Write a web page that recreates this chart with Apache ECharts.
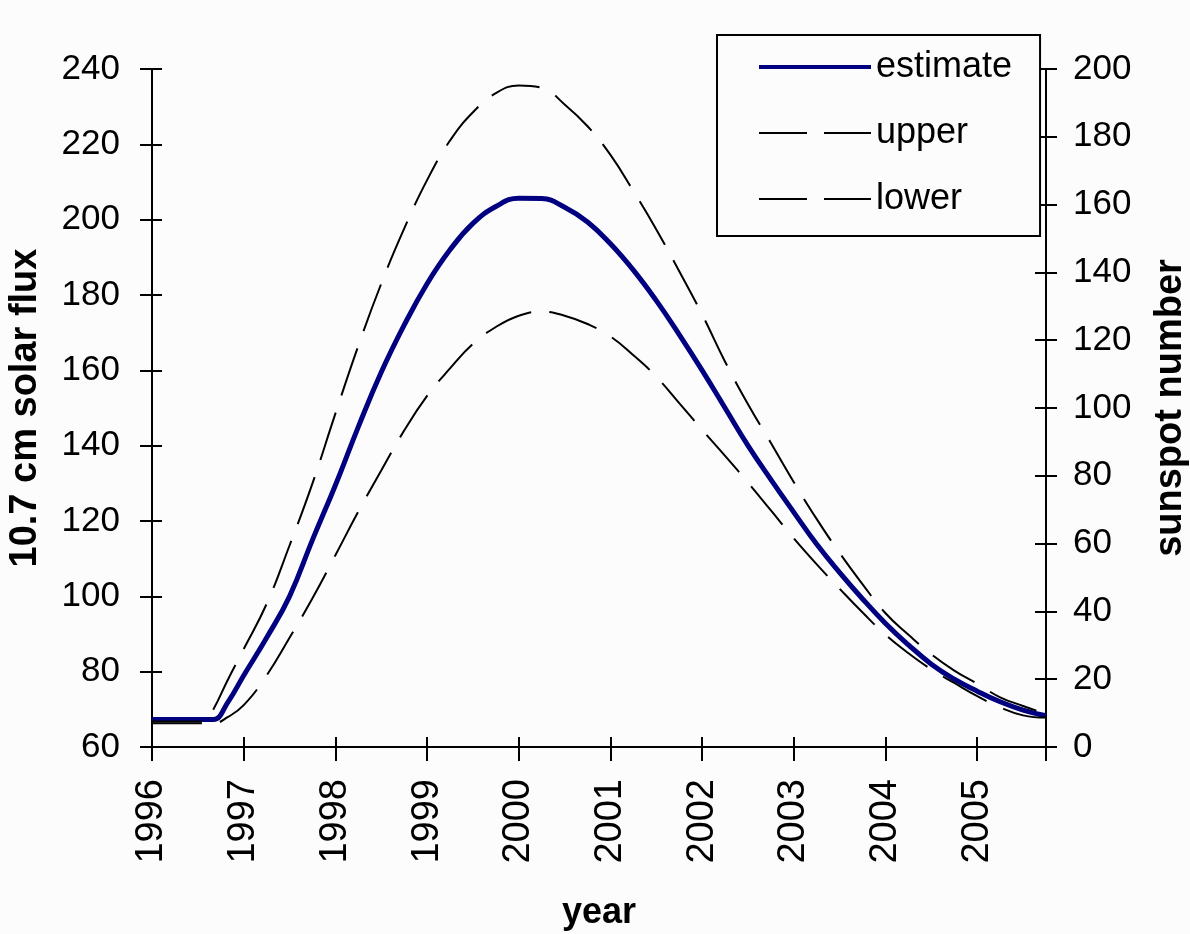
<!DOCTYPE html>
<html>
<head>
<meta charset="utf-8">
<script src="https://cdn.jsdelivr.net/npm/echarts@6/dist/echarts.min.js"></script>
<style>
html,body{margin:0;padding:0;background:#fcfcfc;overflow:hidden;width:1190px;height:934px;}
#chart{width:1190px;height:934px;display:block;}
</style>
</head>
<body>
<div id="chart"></div>
<script>
// x positions (decimal years)
const years = [1996, 1996.25, 1996.5, 1996.58, 1996.67, 1996.83,
  1997, 1997.25, 1997.5, 1997.75, 1998, 1998.25, 1998.5, 1998.75,
  1999, 1999.25, 1999.5, 1999.75, 2000, 2000.25, 2000.5, 2000.75,
  2001, 2001.25, 2001.5, 2001.75, 2002, 2002.25, 2002.5, 2002.75,
  2003, 2003.25, 2003.5, 2003.75, 2004, 2004.25, 2004.5, 2004.75,
  2005, 2005.25, 2005.5, 2005.75];
const estimate = [67.3, 67.3, 67.3, 67.3, 67.3, 72,
  79, 89, 100, 115, 129.5, 145, 159.5, 172,
  183, 192, 199, 203.5, 205.7, 205.6, 203.3, 199.4,
  193.6, 186.6, 178.5, 169.5, 160, 150, 140, 131,
  122.3, 113.8, 106.3, 99.3, 92.8, 87.1, 82, 78,
  74.8, 72.0, 69.8, 68.3];
const upper = [66.8, 66.8, 66.8, 66.8, 70, 78,
  86, 98, 113.5, 130, 148.5, 166.5, 183, 197.6,
  210.5, 221, 228.5, 233.6, 235.6, 235, 230.6, 224.8,
  217.2, 207.6, 197.4, 186.3, 174.8, 162.3, 151, 140.7,
  130.3, 120.5, 111.5, 103.2, 95.5, 89.8, 84.6, 80.3,
  76.8, 73.2, 70.9, 68.8];
const lower = [66.3, 66.3, 66.3, 66.3, 66.3, 68,
  71.1, 79, 89, 99.5, 110.9, 122.5, 133.4, 144,
  153.2, 160.5, 167, 171.5, 174.5, 175.6, 174.5, 172.3,
  169, 164, 158.3, 151.3, 144.2, 137.3, 130.2, 122.8,
  115.4, 108.5, 102, 95.7, 89.8, 84.9, 80.6, 77,
  73.5, 70.5, 68.4, 67.8];
const seriesNames = ['estimate', 'upper', 'lower'];
const xTitle = 'year';
const yLeftTitle = '10.7 cm solar flux';
const yRightTitle = 'sunspot number';

const pairs = arr => years.map((y, i) => [y, arr[i]]);
const font = "'Liberation Sans', Arial, sans-serif";

const solidIcon = 'path://M0,0h112v4h-112z';
const dashIcon = 'path://M0,0M112,4M0,1h48v2h-48zM65,1h47v2h-47z';

const chart = echarts.init(document.getElementById('chart'), null, {renderer: 'canvas', width: 1190, height: 934});
const axisLine = {show: true, lineStyle: {color: '#000', width: 2}};
const option = {
  backgroundColor: '#fcfcfc',
  animation: false,
  grid: {left: 152, right: 144, top: 69, bottom: 187, containLabel: false, outerBoundsMode: 'none'},
  legend: {
    orient: 'vertical', left: 717, top: 35,
    padding: [11, 28, 16, 42], itemGap: 24,
    itemWidth: 112, itemHeight: 4, symbolKeepAspect: false,
    backgroundColor: '#fcfcfc', borderColor: '#000', borderWidth: 2,
    textStyle: {fontFamily: font, fontSize: 36, color: '#000', lineHeight: 42},
    data: [
      {name: seriesNames[0], icon: solidIcon},
      {name: seriesNames[1], icon: dashIcon},
      {name: seriesNames[2], icon: dashIcon}
    ]
  },
  xAxis: [{
    type: 'value', min: 1996, max: 2005.75, interval: 1,
    name: xTitle, nameLocation: 'middle', nameGap: 148,
    nameTextStyle: {fontFamily: font, fontWeight: 'bold', fontSize: 36, color: '#000'},
    axisLine: axisLine,
    axisTick: {show: true, inside: false, length: 14, lineStyle: {color: '#000', width: 2}},
    axisLabel: {rotate: 90, margin: 32, fontFamily: font, fontSize: 38, color: '#000',
      formatter: v => (Math.abs(v - Math.round(v)) < 1e-6 ? String(Math.round(v)) : '')},
    splitLine: {show: false}
  }, {
    type: 'value', min: 1996, max: 2005.75, interval: 1, position: 'bottom',
    axisLine: {show: false},
    axisTick: {show: true, inside: true, length: 10, lineStyle: {color: '#000', width: 2}},
    axisLabel: {show: false}, splitLine: {show: false}
  }],
  yAxis: [{
    type: 'value', min: 60, max: 240, interval: 20, position: 'left',
    name: yLeftTitle, nameLocation: 'middle', nameGap: 107, nameRotate: 90,
    nameTextStyle: {fontFamily: font, fontWeight: 'bold', fontSize: 38, color: '#000'},
    axisLine: axisLine,
    axisTick: {show: true, inside: false, length: 12, lineStyle: {color: '#000', width: 2}},
    axisLabel: {margin: 32, fontFamily: font, fontSize: 35, color: '#000'},
    splitLine: {show: false}
  }, {
    type: 'value', min: 0, max: 200, interval: 20, position: 'right',
    name: yRightTitle, nameLocation: 'middle', nameGap: 106, nameRotate: 90,
    nameTextStyle: {fontFamily: font, fontWeight: 'bold', fontSize: 38, color: '#000'},
    axisLine: axisLine,
    axisTick: {show: true, inside: false, length: 11, lineStyle: {color: '#000', width: 2}},
    axisLabel: {margin: 27, fontFamily: font, fontSize: 35, color: '#000'},
    splitLine: {show: false}
  }, {
    type: 'value', min: 60, max: 240, interval: 20, position: 'left',
    axisLine: {show: false},
    axisTick: {show: true, inside: true, length: 10, lineStyle: {color: '#000', width: 2}},
    axisLabel: {show: false}, splitLine: {show: false}
  }, {
    type: 'value', min: 0, max: 200, interval: 20, position: 'right',
    axisLine: {show: false},
    axisTick: {show: true, inside: true, length: 11, lineStyle: {color: '#000', width: 2}},
    axisLabel: {show: false}, splitLine: {show: false}
  }],
  series: [{
    name: seriesNames[0], type: 'line', data: pairs(estimate), symbol: 'none',
    smooth: 0.45, xAxisIndex: 0, yAxisIndex: 0,
    lineStyle: {color: '#000080', width: 5}, itemStyle: {color: '#000080'}
  }, {
    name: seriesNames[1], type: 'line', data: pairs(upper), symbol: 'none',
    smooth: 0.45, xAxisIndex: 0, yAxisIndex: 0,
    lineStyle: {color: '#000', width: 2, type: [50, 18]}, itemStyle: {color: '#000'}
  }, {
    name: seriesNames[2], type: 'line', data: pairs(lower), symbol: 'none',
    smooth: 0.45, xAxisIndex: 0, yAxisIndex: 0,
    lineStyle: {color: '#000', width: 2, type: [50, 18]}, itemStyle: {color: '#000'}
  }]
};
chart.setOption(option);
</script>
</body>
</html>
